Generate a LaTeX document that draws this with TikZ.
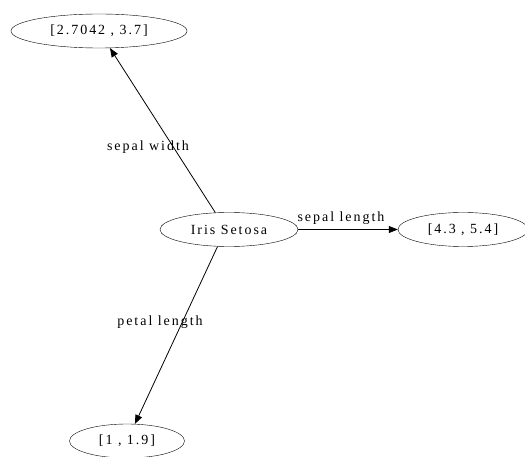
\documentclass[tikz,border=0pt]{standalone}
\usepackage{fontspec}
\setmainfont{Liberation Serif}[LetterSpace=14]
\usetikzlibrary{arrows.meta,shapes.geometric}
\begin{document}
\begin{tikzpicture}[x=1pt,y=-1pt,
  ell/.style={draw,ellipse,inner sep=0pt,minimum height=34pt,font=\fontsize{14}{16}\selectfont},
  lbl/.style={font=\fontsize{14}{16}\selectfont,inner sep=0pt},
  conn/.style={draw,line width=0.8pt,-{Triangle[length=9pt,width=7pt]}}]
\useasboundingbox (0,0) rectangle (525,457);
\node[ell,minimum width=176pt] (top) at (99,31) {[2.7042 , 3.7]};
\node[ell,minimum width=138pt] (iris) at (229,229.5) {Iris Setosa};
\node[ell,minimum width=130pt] (right) at (463,229.5) {[4.3 , 5.4]};
\node[ell,minimum width=115pt] (bot) at (127,441) {[1 , 1.9]};
\draw[conn] (iris.129) -- (top);
\draw[conn] (iris) -- (right);
\draw[conn] (iris.-124) -- (bot);
\node[lbl] (l1) at (148,147) {sepal width};
\node[lbl] (l2) at (341,218) {sepal length};
\node[lbl] (l3) at (160,322) {petal length};
\end{tikzpicture}
\end{document}
